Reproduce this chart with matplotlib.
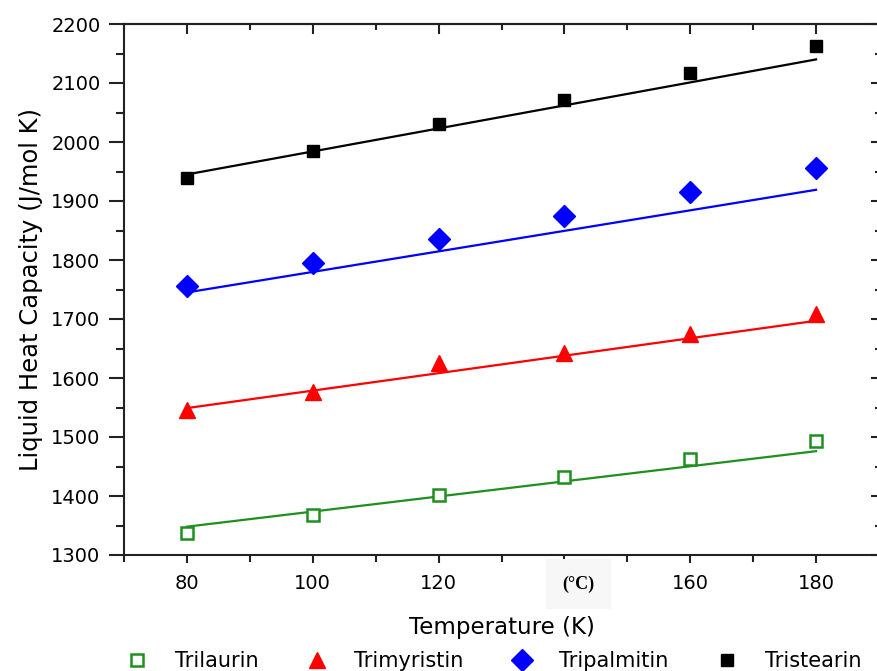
import numpy as np
import matplotlib
matplotlib.use("Agg")
import matplotlib.pyplot as plt
from matplotlib.ticker import MultipleLocator, FixedLocator

# measured liquid heat capacities (J/mol K)
temp = [80, 100, 120, 140, 160, 180]
trilaurin = [1337, 1368, 1401, 1432, 1462, 1493]
trimyristin = [1545, 1576, 1625, 1642, 1675, 1708]
tripalmitin = [1756, 1795, 1835, 1875, 1915, 1956]
tristearin = [1939, 1985, 2030, 2072, 2117, 2162]

# model lines, values at the two ends of the range
fit_temp = [80, 180]
trilaurin_fit = [1348, 1476]
trimyristin_fit = [1549, 1697]
tripalmitin_fit = [1745, 1919]
tristearin_fit = [1945, 2140]

names = ["Trilaurin", "Trimyristin", "Tripalmitin", "Tristearin"]
xtick_vals = [80, 100, 120, 140, 160, 180]
xtick_text = ["80", "100", "120", "", "160", "180"]
celsius_at = 140
celsius_text = "(°C)"

plt.rcParams["font.family"] = ["DejaVu Sans"]

fig = plt.figure(figsize=(8.77, 6.71), dpi=100)
ax = fig.add_axes([124/877, 116/671, 755/877, 531/671])

green = "#1f8f1f"
styles = [
    dict(marker="s", ms=8, mfc="white", mec=green, mew=1.8, color=green),
    dict(marker="^", ms=12, mfc="red", mec="red", color="red"),
    dict(marker="D", ms=11, mfc="blue", mec="blue", color="blue"),
    dict(marker="s", ms=9, mfc="black", mec="black", color="black"),
]
series = [trilaurin, trimyristin, tripalmitin, tristearin]
fits = [trilaurin_fit, trimyristin_fit, tripalmitin_fit, tristearin_fit]

handles = []
for name, ys, fy, st in zip(names, series, fits, styles):
    ax.plot(fit_temp, fy, "-", color=st["color"], lw=1.6, zorder=2)
    h, = ax.plot(temp, ys, ls="none", marker=st["marker"], ms=st["ms"],
                 mfc=st["mfc"], mec=st["mec"], mew=st.get("mew", 1), zorder=3,
                 label=name)
    handles.append(h)

ax.set_xlim(70, 190)
ax.set_ylim(1300, 2200)

for s in ax.spines.values():
    s.set_linewidth(1.5)
    s.set_color("#222222")

ax.set_xticks(xtick_vals)
ax.set_xticklabels(xtick_text)
ax.xaxis.set_minor_locator(FixedLocator([70, 90, 110, 130, 150, 170, 190]))
ax.yaxis.set_major_locator(MultipleLocator(100))
ax.yaxis.set_minor_locator(MultipleLocator(50))
ax.tick_params(axis="x", which="major", direction="out", length=6, width=1.5,
               labelsize=14, pad=8, color="#222222")
ax.tick_params(axis="x", which="minor", direction="out", length=5, width=1.5,
               color="#222222")
ax.tick_params(axis="y", which="major", direction="out", length=11, width=1.5,
               labelsize=14, pad=6, color="#222222")
ax.tick_params(axis="y", which="minor", direction="out", length=6, width=1.5,
               color="#222222")

# the Celsius marker sits in the tick row, in a bold serif face
ax.annotate(celsius_text, xy=(celsius_at, 0), xycoords=("data", "axes fraction"),
            xytext=(10, -21), textcoords="offset points", ha="center", va="center",
            fontfamily="Liberation Serif", fontweight="bold", fontsize=13,
            bbox=dict(facecolor="#f7f7f7", edgecolor="none", pad=12))

# inward ticks on top and right
top = ax.secondary_xaxis("top")
top.set_xticks(xtick_vals)
top.xaxis.set_minor_locator(FixedLocator([70, 90, 110, 130, 150, 170, 190]))
top.tick_params(which="major", direction="in", length=7, width=1.5,
                labeltop=False, color="#222222")
top.tick_params(which="minor", direction="in", length=4, width=1.5,
                color="#222222")
top.spines["top"].set_linewidth(1.5)

right = ax.secondary_yaxis("right")
right.yaxis.set_major_locator(MultipleLocator(100))
right.yaxis.set_minor_locator(MultipleLocator(50))
right.tick_params(which="major", direction="in", length=6, width=1.5,
                  labelright=False, color="#222222")
right.tick_params(which="minor", direction="in", length=3, width=1.5,
                  color="#222222")

ax.set_xlabel("Temperature (K)", fontsize=16.5, labelpad=16)
ax.set_ylabel("Liquid Heat Capacity (J/mol K)", fontsize=17.5, labelpad=6)

fig.legend(handles=handles, loc="center", bbox_to_anchor=(0.562, 0.015),
           ncol=4, frameon=False, fontsize=15, handletextpad=1.2,
           columnspacing=2.2, handlelength=1.2)

fig.savefig("out.png", dpi=100)
